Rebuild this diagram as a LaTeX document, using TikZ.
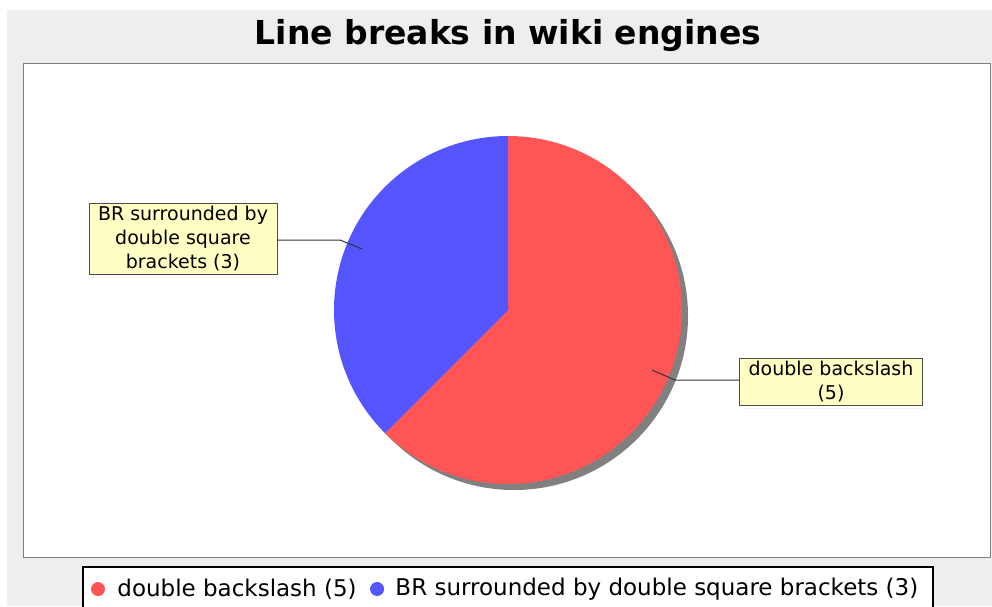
\documentclass[tikz,border=0pt]{standalone}
\usepackage{fontspec}
\setmainfont{DejaVu Sans}
\usetikzlibrary{positioning}
\definecolor{pieRed}{HTML}{FF5555}
\definecolor{pieBlue}{HTML}{5555FF}
\definecolor{chartBack}{HTML}{EEEEEE}
\definecolor{labelFill}{HTML}{FFFFC4}
\definecolor{shadowGray}{HTML}{808080}

\begin{document}
\begin{tikzpicture}[x=1pt, y=-1pt]
	\tikzset{pielabel/.style={draw=black!70, fill=labelFill, line width=0.8pt, align=center,
		font=\fontsize{19}{24}\selectfont, inner xsep=9pt, inner ysep=3pt}}
	\tikzset{labellink/.style={draw=black!80, line width=1pt}}
	\tikzset{legenddot/.style={circle, inner sep=0pt, minimum size=14pt}}
	\tikzset{legendtext/.style={inner sep=0pt, font=\fontsize{23}{26}\selectfont}}
	\useasboundingbox (0,0) rectangle (992,606);
	\fill[white] (0,0) rectangle (992,606);
	\fill[chartBack] (7,10) rectangle (992,606);

	\node (title) at (508,36) {\fontsize{33}{36}\selectfont\bfseries Line breaks in wiki engines};
	\draw[fill=white, draw=shadowGray, line width=1pt] (23,63) rectangle (990,557);

	\coordinate (c) at (508,310);
	\fill[shadowGray] ([shift={(6,6)}]c) circle[radius=174];
	\fill[pieRed] (c) -- +(-90:174) arc[start angle=-90, end angle=135, radius=174] -- cycle;
	\fill[pieBlue] (c) -- +(135:174) arc[start angle=135, end angle=270, radius=174] -- cycle;

	\node[pielabel] (br) at (183,239) {BR surrounded by\\double square\\brackets (3)};
	\node[pielabel] (bs) at (831,382) {double backslash\\(5)};
	\fill[shadowGray!60] ([shift={(2,2)}]br.south west) rectangle ([shift={(2,2)}]br.south east);
	\fill[shadowGray!60] ([shift={(2,2)}]bs.south west) rectangle ([shift={(2,2)}]bs.south east);

	\coordinate (brknee) at (340,240);
	\coordinate (brtip) at (362,249);
	\coordinate (bsknee) at (675,380);
	\coordinate (bstip) at (652,370);
	\draw[labellink] (br.east |- brknee) -- (brknee) -- (brtip);
	\draw[labellink] (bs.west |- bsknee) -- (bsknee) -- (bstip);

	\draw[fill=white, draw=black, line width=1.5pt] (83,567) rectangle (933,620);
	\node[legenddot, fill=pieRed] (dotred) at (98,589) {};
	\node[legendtext, right=12pt of dotred] (legred) {double backslash (5)};
	\node[legenddot, fill=pieBlue, right=13pt of legred] (dotblue) {};
	\node[legendtext, right=11pt of dotblue] (legblue) {BR surrounded by double square brackets (3)};
\end{tikzpicture}
\end{document}
